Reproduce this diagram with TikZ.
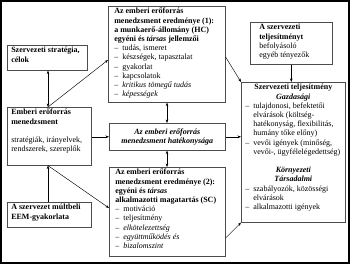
\documentclass[tikz,border=0pt]{standalone}
\usepackage{fontspec}
\setmainfont{Liberation Serif}
\usetikzlibrary{arrows.meta}
\newcommand\dl[1]{\par\noindent\hangindent=8pt\hangafter=1\makebox[8pt][l]{–}#1\par}
\newcommand\bxt[3]{\parbox[t][#2pt][t]{#1pt}{\fontsize{8}{9.2}\selectfont\raggedright #3}}
\begin{document}
\begin{tikzpicture}[x=1pt,y=-1pt,
  box/.style={draw=black!70,line width=0.6pt,anchor=north west,inner xsep=4pt,inner ysep=2pt},
  arr/.style={line width=0.45pt,-{Stealth[length=3.5pt,width=2.6pt]}},
  darr/.style={line width=0.45pt,{Stealth[length=3.5pt,width=2.6pt]}-{Stealth[length=3.5pt,width=2.6pt]}}]
\useasboundingbox (0,0) rectangle (350,264);
\draw[line width=1.6pt] (0.8,0.8) rectangle (349.2,263.2);

\node[box] (A) at (7,45) {\bxt{72}{21}{\textbf{Szervezeti stratégia,\\ célok}}};

\node[box,inner xsep=6pt] (B) at (108,6) {\bxt{105}{92}{\textbf{Az emberi erőforrás\\ menedzsment eredménye (1):\\ a munkaerő-állomány (HC)\\ egyéni és \textit{társas} jellemzői}
\dl{tudás, ismeret}
\dl{készségek, tapasztalat}
\dl{gyakorlat}
\dl{kapcsolatok}
\dl{\textit{kritikus tömegű tudás}}
\dl{\textit{képességek}}}};

\node[box,inner xsep=9pt] (C) at (250,22) {\bxt{64}{38}{\textbf{A szervezeti\\ teljesítményt}\\ befolyásoló\\ egyéb tényezők}};

\node[box,inner xsep=4pt] (D) at (241,82) {\bxt{96}{136}{{\centering\textbf{Szervezeti teljesítmény}\\ \textbf{\textit{Gazdasági}}\par}
\dl{tulajdonosi, befektetői\newline elvárások (költség-\newline hatékonyság, flexibilitás,\newline humány tőke előny)}
\dl{vevői igények (minőség,\newline vevői-, ügyfélelégedettség)}
\mbox{}\par
{\centering\textbf{\textit{Környezeti}}\\ \textbf{\textit{Társadalmi}}\par}
\dl{szabályozók, közösségi\newline elvárások}
\dl{alkalmazotti igények}}};

\node[box] (E) at (7,107) {\bxt{76}{54}{\textbf{Emberi erőforrás\\ menedzsment}\par\mbox{}\par stratégiák, irányelvek,\\ rendszerek, szereplők}};

\node[box] (F) at (109,123) {\parbox[c][23pt][c]{108pt}{\fontsize{8}{9.2}\selectfont\centering\textbf{\textit{Az emberi erőforrás\\ menedzsment hatékonysága}}}};

\node[box] (G) at (7,202) {\bxt{76}{21}{\textbf{A szervezet múltbeli\\ EEM-gyakorlata}}};

\node[box,inner xsep=6pt] (H) at (109,167) {\bxt{104}{85}{\textbf{Az emberi erőforrás\\ menedzsment eredménye (2):\\ egyéni és \textit{társas}\\ alkalmazotti magatartás (SC)}
\dl{motiváció}
\dl{teljesítmény}
\dl{\textit{elkötelezettség}}
\dl{\textit{együttműködés és}}
\dl{\textit{bizalomszint}}}};

\coordinate (cxL) at (48,0);
\coordinate (cxM) at (167,0);
\coordinate (cyB) at (0,60);
\coordinate (cyH) at (0,208);
\coordinate (cyBo) at (0,57);
\coordinate (cyHo) at (0,238);

\draw[darr] (E.north -| cxL) -- (A.south -| cxL);
\draw[arr] (E.north -| cxL) -- (B.west |- cyB);
\draw[arr] (E.east |- F.west) -- (F.west);
\draw[arr] (G.north -| cxL) -- (E.south -| cxL);
\draw[arr] (E.south -| cxL) -- (H.west |- cyH);
\draw[darr] (B.south -| cxM) -- (F.north -| cxM);
\draw[darr] (F.south -| cxM) -- (H.north -| cxM);
\draw[arr] (B.east |- cyBo) -- (D.north west);
\draw[arr] (F.east) -- (D.west |- F.east);
\draw[arr] (H.east |- cyHo) -- (D.south west);
\draw[arr] (C.south) -- (C.south |- D.north);
\end{tikzpicture}
\end{document}
